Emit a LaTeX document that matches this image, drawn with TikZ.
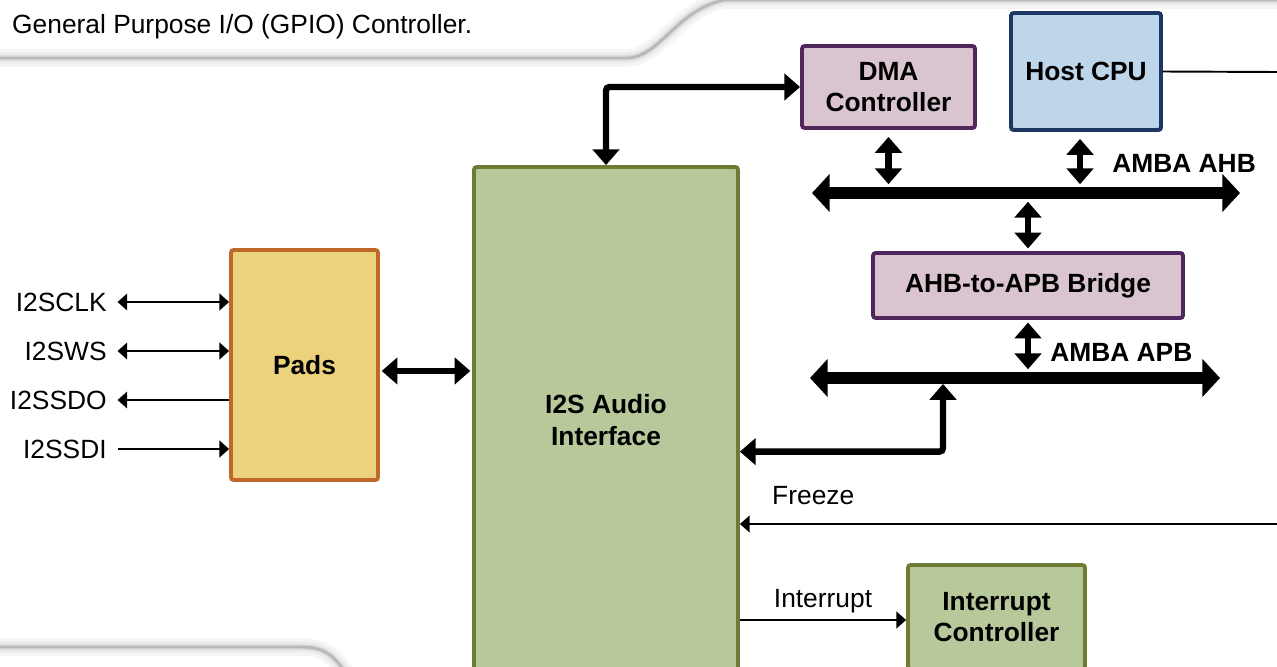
\documentclass[tikz,border=0pt]{standalone}
\usepackage{fontspec}
\setmainfont{Liberation Sans}
\usetikzlibrary{arrows.meta}
\definecolor{plumfill}{RGB}{217,196,208}
\definecolor{plumline}{RGB}{80,38,92}
\definecolor{cpufill}{RGB}{190,214,234}
\definecolor{cpuline}{RGB}{30,54,98}
\definecolor{padfill}{RGB}{236,210,124}
\definecolor{padline}{RGB}{192,104,42}
\definecolor{olivefill}{RGB}{183,201,154}
\definecolor{oliveline}{RGB}{110,123,53}
\begin{document}
\begin{tikzpicture}[x=0.02cm,y=-0.02cm,
  every node/.style={font=\fontsize{15}{18}\selectfont},
  box/.style={draw,line width=2.2pt,rounded corners=1.5pt,align=center,inner sep=0pt,
    font=\fontsize{15}{18}\selectfont\bfseries},
  plumbox/.style={box,draw=plumline,fill=plumfill},
  cpubox/.style={box,draw=cpuline,fill=cpufill},
  padbox/.style={box,draw=padline,fill=padfill},
  olivebox/.style={box,draw=oliveline,fill=olivefill},
  sig/.style={line width=1.1pt,>={Triangle[width=9.5pt,length=5.5pt]}},
  link/.style={line width=3.6pt,>={Triangle[width=15pt,length=9pt]}},
  bus/.style={line width=6.8pt,>={Triangle[width=21pt,length=10pt]}},
  busname/.style={anchor=west,inner sep=0pt,font=\fontsize{15}{18}\selectfont\bfseries},
  shade/.style={line cap=round,draw=black!#1}]
  \clip (0,0) rectangle (1277,666);
  % page callout edges
  \foreach \w/\c in {10pt/4,6pt/8,3pt/16,1.4pt/28}{
    \draw[shade=\c,line width=\w] (-10,58) -- (626,58) .. controls (660,58) and (676,10) .. (724,0) -- (1290,0);
    \draw[shade=\c,line width=\w] (-10,647) -- (300,647) .. controls (322,647) and (332,653) .. (346,673);
  }
  \node[anchor=west] (caption) at (6,27) {General Purpose I/O (GPIO) Controller.};

  % blocks
  \node[plumbox,minimum width=3.46cm,minimum height=1.64cm] (dma) at (888.5,87) {DMA\\Controller};
  \node[cpubox,minimum width=3cm,minimum height=2.34cm] (cpu) at (1086,71.5) {Host CPU};
  \node[plumbox,minimum width=6.2cm,minimum height=1.3cm] (bridge) at (1028,285.5) {AHB-to-APB Bridge};
  \node[padbox,minimum width=2.94cm,minimum height=4.6cm] (pads) at (304.5,365) {Pads};
  \node[olivebox,minimum width=5.28cm,minimum height=10.12cm] (i2s) at (606,420) {I2S Audio\\Interface};
  \node[olivebox,minimum width=3.54cm,minimum height=2.08cm] (intc) at (996.5,617) {Interrupt\\Controller};

  % buses
  \coordinate (ahbL) at (812,193); \coordinate (ahbR) at (1240,193);
  \coordinate (apbL) at (810,378); \coordinate (apbR) at (1220,378);
  \draw[bus,<->] (ahbL) -- (ahbR);
  \draw[bus,<->] (apbL) -- (apbR);
  \node[busname] (ahbname) at (1112,163) {AMBA AHB};
  \node[busname] (apbname) at (1050,352) {AMBA APB};

  % bus taps
  \draw[link,<->,shorten <=4pt,shorten >=5pt] (dma.south) -- (dma.south |- ahbL);
  \draw[link,<->,shorten <=4pt,shorten >=5pt] ([xshift=-3.4pt]cpu.south) -- ([xshift=-3.4pt]cpu.south |- ahbL);
  \draw[link,<->,shorten <=5pt,shorten >=1.5pt] (ahbL -| bridge.north) -- (bridge.north);
  \draw[link,<->,shorten <=1.5pt,shorten >=5pt] (bridge.south) -- (bridge.south |- apbL);

  % data paths
  \draw[link,<->,shorten <=1pt,shorten >=1pt] ([yshift=-3.4pt]pads.east) -- ([yshift=-3.4pt]pads.east -| i2s.west);
  \draw[link,<->,rounded corners=2pt] (i2s.north) |- (dma.west);
  \coordinate (apbport) at ([yshift=-18pt]i2s.east);
  \coordinate (apbtap) at (943,378);
  \draw[link,<->,rounded corners=2pt,shorten >=3.4pt] (apbport) -| (apbtap);

  % control signals
  \coordinate (frzsrc) at (1277,524);
  \draw[sig,->] (frzsrc) -- (frzsrc -| i2s.east);
  \node[anchor=west] (frzname) at (766,496) {Freeze};
  \draw[sig,->] ([yshift=-1.7pt]i2s.east |- intc.west) -- ([yshift=-1.7pt]intc.west)
    node[midway,above] (irqname) {Interrupt};
  \coordinate (cpuout) at (1277,72);
  \draw[sig] (cpu.east) -- (cpuout);

  % pins
  \foreach \name/\yy/\tip [count=\i] in {I2SCLK/302/<->,I2SWS/351/<->,I2SSDO/400/<-,I2SSDI/449/->}{
    \node[anchor=east,inner sep=0pt] (pin\i) at (107,\yy) {\name};
    \draw[sig,\tip] ([xshift=6pt]pin\i.east) -- (pin\i -| pads.west);
  }
\end{tikzpicture}
\end{document}
